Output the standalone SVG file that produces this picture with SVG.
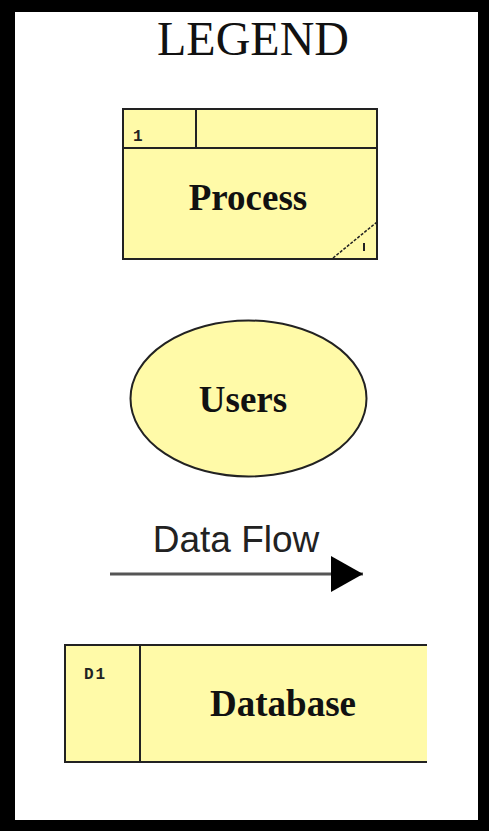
<svg xmlns="http://www.w3.org/2000/svg" width="489" height="831" viewBox="0 0 489 831">
<defs>
<style>
.shape{fill:#FFFAA8;stroke:#222;stroke-width:2}
.lbl{font-family:"Liberation Serif","Times New Roman",serif;font-weight:bold;font-size:37px;fill:#111;text-anchor:middle}
.id{font-family:"Liberation Mono","Courier New",monospace;font-weight:bold;font-size:16px;fill:#222}
</style>
<marker id="ah" markerWidth="32" markerHeight="36" refX="32" refY="18" orient="auto" markerUnits="userSpaceOnUse">
<path d="M0,0 L32,18 L0,36 Z" fill="#000"/>
</marker>
</defs>
<rect x="0" y="0" width="489" height="831" fill="#000"/>
<rect x="15" y="12" width="463" height="808" fill="#fff"/>
<text x="253" y="55" font-family="Liberation Serif,'Times New Roman',serif" font-size="48" text-anchor="middle" fill="#111">LEGEND</text>
<g id="process">
<rect class="shape" x="123" y="109" width="254" height="150"/>
<line x1="123" y1="148" x2="377" y2="148" stroke="#222" stroke-width="2"/>
<line x1="196" y1="109" x2="196" y2="148" stroke="#222" stroke-width="2"/>
<text class="id" x="133" y="141">1</text>
<text class="lbl" x="248" y="210">Process</text>
<line x1="333" y1="258" x2="377" y2="222" stroke="#222" stroke-width="1.5" stroke-dasharray="3,1.5"/>
<line x1="364" y1="243" x2="364" y2="251" stroke="#222" stroke-width="2"/>
</g>
<g id="users">
<ellipse class="shape" cx="248.5" cy="398.5" rx="118" ry="78"/>
<text class="lbl" x="243" y="412">Users</text>
</g>
<g id="connectors">
<line x1="110" y1="574" x2="363" y2="574" stroke="#555" stroke-width="3" marker-end="url(#ah)"/>
<text x="236" y="552" font-family="Liberation Sans,Arial,sans-serif" font-size="37" text-anchor="middle" fill="#222">Data Flow</text>
</g>
<g id="database">
<rect x="65" y="645" width="362" height="117" fill="#FFFAA8"/>
<path d="M427,645 L65,645 L65,762 L427,762" fill="none" stroke="#222" stroke-width="2"/>
<line x1="140" y1="645" x2="140" y2="762" stroke="#222" stroke-width="2"/>
<text class="id" x="84" y="679" letter-spacing="2">D1</text>
<text class="lbl" x="283" y="716">Database</text>
</g>
</svg>
